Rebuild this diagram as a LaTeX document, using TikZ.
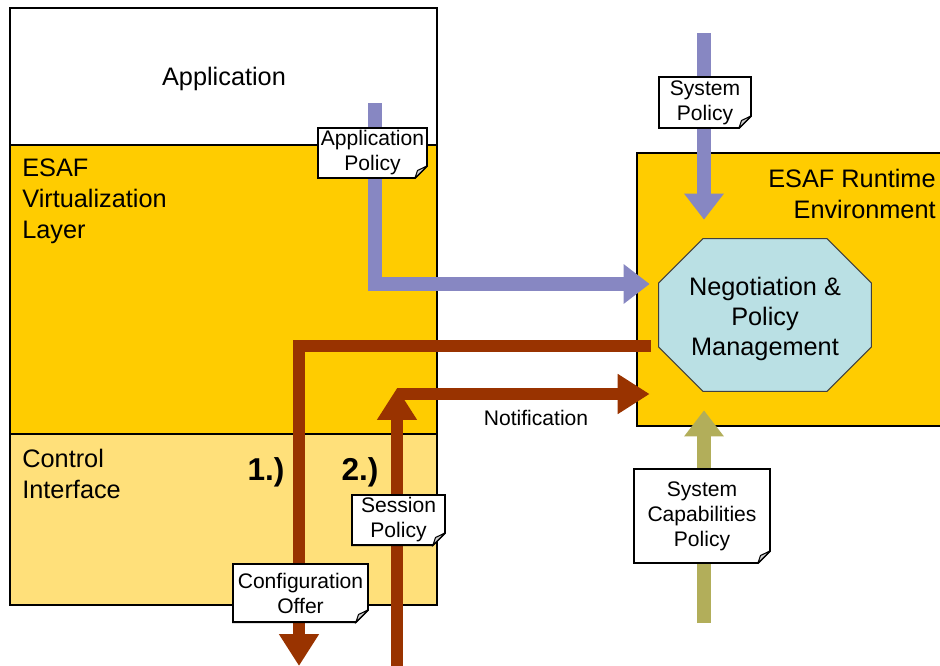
\documentclass[tikz,border=0pt]{standalone}
\usepackage{fontspec}
\setmainfont{Liberation Sans}
\usetikzlibrary{arrows.meta}

\definecolor{esafOrange}{HTML}{FFCC00}
\definecolor{ctrlYellow}{HTML}{FFE07A}
\definecolor{negotBlue}{HTML}{BAE0E4}
\definecolor{flowRed}{HTML}{993300}
\definecolor{policyBlue}{HTML}{8787C2}
\definecolor{capOlive}{HTML}{B2AE5A}

\tikzset{
    layer/.style={draw,line width=1.1pt},
    boxtext/.style={font=\fontsize{14.4}{17.6}\selectfont,inner sep=0pt},
    smalltext/.style={font=\fontsize{12}{14.2}\selectfont,inner sep=0pt},
    stepno/.style={font=\fontsize{18}{20}\selectfont\bfseries,inner sep=0pt},
    note/.style={align=center,inner sep=1pt,font=\fontsize{12}{14.2}\selectfont,
        path picture={
            \path[fill=white,draw,line width=1.1pt]
                ([shift={(0.55pt,-0.55pt)}]path picture bounding box.north west)
                -- ([shift={(-0.55pt,-0.55pt)}]path picture bounding box.north east)
                -- ([shift={(-0.55pt,0.26cm)}]path picture bounding box.south east)
                -- ([shift={(-0.26cm,0.55pt)}]path picture bounding box.south east)
                -- ([shift={(0.55pt,0.55pt)}]path picture bounding box.south west) -- cycle;
            \path[fill=gray!35,draw,line width=0.6pt]
                ([shift={(-0.26cm,0.55pt)}]path picture bounding box.south east)
                -- ([shift={(-0.21cm,0.17cm)}]path picture bounding box.south east)
                -- ([shift={(-0.55pt,0.26cm)}]path picture bounding box.south east) -- cycle;}},
    negot/.style={minimum width=4.28cm,minimum height=3.08cm,
        path picture={
            \path[fill=negotBlue,draw=black!75,line width=0.6pt]
                ([shift={(0.9cm,-0.3pt)}]path picture bounding box.north west)
                -- ([shift={(-0.9cm,-0.3pt)}]path picture bounding box.north east)
                -- ([shift={(-0.3pt,-0.9cm)}]path picture bounding box.north east)
                -- ([shift={(-0.3pt,0.9cm)}]path picture bounding box.south east)
                -- ([shift={(-0.9cm,0.3pt)}]path picture bounding box.south east)
                -- ([shift={(0.9cm,0.3pt)}]path picture bounding box.south west)
                -- ([shift={(0.3pt,0.9cm)}]path picture bounding box.south west)
                -- ([shift={(0.3pt,-0.9cm)}]path picture bounding box.north west) -- cycle;}},
    flowArrow/.style={draw=flowRed,line width=0.24cm,-{Triangle[width=0.76cm,length=0.64cm]}},
    policyArrow/.style={draw=policyBlue,line width=0.28cm,-{Triangle[width=0.76cm,length=0.52cm]}},
    capArrow/.style={policyArrow,draw=capOlive}
}

\begin{document}
\begin{tikzpicture}[x=0.02cm,y=-0.02cm]
    \useasboundingbox (0,0) rectangle (940,666);
    \clip (0,0) rectangle (940,666);

    \draw[layer,fill=white] (10,8) rectangle (437,145);
    \draw[layer,fill=esafOrange] (10,145) rectangle (437,434);
    \draw[layer,fill=ctrlYellow] (10,434) rectangle (437,605);
    \draw[layer,fill=esafOrange] (637,153) rectangle (960,426);

    \node[boxtext] (appTxt) at (224,79) {Application};
    \node[boxtext,anchor=west,align=left] (virtTxt) at (22,201) {ESAF\\Virtualization\\Layer};
    \node[boxtext,anchor=west,align=left] (ctrlTxt) at (22,474) {Control\\Interface};
    \node[boxtext,anchor=east,align=right] (rteTxt) at (936,193.5) {ESAF Runtime\\Environment};

    \node[negot] (negot) at (765,315) {};
    \node[boxtext,align=center,font=\fontsize{14.4}{17.3}\selectfont] (negotTxt) at (765,319) {Negotiation \&\\Policy\\Management};

    \coordinate (appSrc) at (375,103);
    \coordinate (sysSrc) at (704,33);
    \coordinate (capSrc) at (704,623);
    \coordinate (offerOut) at (299,666);
    \coordinate (sessSrc) at (397,666);
    \coordinate (sessTop) at (397,388);
    \coordinate (notifySrc) at (397,394);

    \draw[policyArrow,shorten >=0.16cm] (appSrc) |- ([yshift=0.62cm]negot.west);
    \draw[policyArrow,shorten >=0.36cm] (sysSrc) -- (sysSrc |- negot.north);
    \draw[capArrow,shorten >=0.36cm] (capSrc) -- (capSrc |- negot.south);

    \draw[flowArrow] ([xshift=-0.14cm,yshift=-0.62cm]negot.west) -| (offerOut);
    \draw[flowArrow] (sessSrc) -- (sessTop);
    \draw[flowArrow,shorten >=0.16cm] (notifySrc) -- (notifySrc -| negot.west);

    \node[smalltext] (notifyTxt) at (536,418) {Notification};
    \node[stepno] (stepOne) at (266,472) {1.)};
    \node[stepno] (stepTwo) at (360,472) {2.)};

    \node[note,minimum width=2.22cm,minimum height=1.04cm] (appPolicy) at (372.5,153) {Application\\Policy};
    \node[note,minimum width=1.88cm,minimum height=1.06cm] (sysPolicy) at (705,102.5) {System\\Policy};
    \node[note,minimum width=2.76cm,minimum height=1.92cm] (capPolicy) at (702,516) {System\\Capabilities\\Policy};
    \node[note,minimum width=1.9cm,minimum height=1.04cm] (sessPolicy) at (398.5,520) {Session\\Policy};
    \node[note,minimum width=2.74cm,minimum height=1.2cm] (confOffer) at (300.5,593) {Configuration\\Offer};
\end{tikzpicture}
\end{document}
